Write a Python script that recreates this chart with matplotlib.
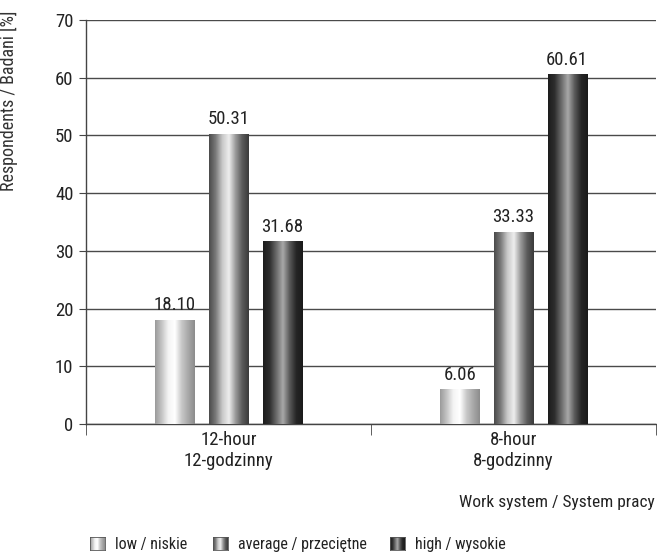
import numpy as np
import matplotlib
matplotlib.use("Agg")
import matplotlib.pyplot as plt
from matplotlib.colors import LinearSegmentedColormap

plt.rcParams['font.family'] = ['Roboto Condensed', 'DejaVu Sans']

categories = ["12-hour\n12-godzinny", "8-hour\n8-godzinny"]
series = ["low / niskie", "average / przeciętne", "high / wysokie"]
values = [
    [18.10, 50.31, 31.68],
    [6.06, 33.33, 60.61],
]

# cylinder-like shading for each series, left edge -> right edge
shades = [
    ["#9a9a9a", "#c4c4c4", "#f4f4f4", "#ffffff", "#c8c8c8", "#a8a8a8", "#8c8c8c"],
    ["#4a4a4a", "#7a7a7a", "#c8c8c8", "#eeeeee", "#9a9a9a", "#5a5a5a", "#3a3a3a"],
    ["#1c1c1c", "#2e2e2e", "#6a6a6a", "#a8a8a8", "#5a5a5a", "#262626", "#1a1a1a"],
]
cmaps = [LinearSegmentedColormap.from_list("s%d" % i, c) for i, c in enumerate(shades)]
grad = np.linspace(0, 1, 256).reshape(1, -1)

fig = plt.figure(figsize=(6.57, 5.52), dpi=100)
ax = fig.add_axes([86 / 657, 128 / 552, 570 / 657, 404 / 552])

bw = 0.137
step = 0.188
for ci, vals in enumerate(values):
    for si, v in enumerate(vals):
        xc = ci + (si - 1) * step
        bar = ax.bar(xc, v, width=bw, color="none", edgecolor="none", zorder=3)[0]
        im = ax.imshow(grad, cmap=cmaps[si], aspect="auto", zorder=3,
                       extent=[xc - bw / 2, xc + bw / 2, 0, v])
        im.set_clip_path(bar)
        ax.text(xc, v + 0.9, "%.2f" % v, ha="center", va="bottom",
                fontsize=13.5, color="#222222", zorder=4)

ax.set_xlim(-0.5, 1.5)
ax.set_ylim(0, 70)
ax.set_yticks(range(0, 71, 10))
ax.yaxis.grid(True, color="#4a4a4a", linewidth=1.0)
ax.set_axisbelow(True)

ax.set_xticks([0, 1])
ax.set_xticklabels(categories, fontsize=13.5, color="#222222", linespacing=1.25)
ax.set_xticks([-0.5, 0.5, 1.5], minor=True)
ax.tick_params(axis="x", which="major", length=0, pad=5)
ax.tick_params(axis="x", which="minor", length=8, color="#444444")
ax.tick_params(axis="y", length=5, color="#444444", labelsize=13.5,
               labelcolor="#222222", pad=4)

for s in ["top", "right"]:
    ax.spines[s].set_visible(False)
for s in ["left", "bottom"]:
    ax.spines[s].set_color("#444444")
    ax.spines[s].set_linewidth(1.0)

ax.set_ylabel("Respondents / Badani [%]", fontsize=13, color="#333333")
ax.yaxis.set_label_coords(-0.12, 0.80)
fig.text(655 / 657, 1 - 502 / 552, "Work system / System pracy", ha="right",
         va="center", fontsize=12.5, color="#222222")

# legend swatches along the bottom
leg_x = [90, 213, 390]
for si, name in enumerate(series):
    sw = fig.add_axes([leg_x[si] / 657, 1 - 550 / 552, 15 / 657, 13 / 552])
    sw.imshow(grad, cmap=cmaps[si], aspect="auto")
    sw.set_xticks([])
    sw.set_yticks([])
    for sp in sw.spines.values():
        sp.set_color("#555555")
        sp.set_linewidth(0.6)
    fig.text((leg_x[si] + 25) / 657, 1 - 544 / 552, name, ha="left", va="center",
             fontsize=11.5, color="#222222")

fig.savefig("out.png", dpi=100)
